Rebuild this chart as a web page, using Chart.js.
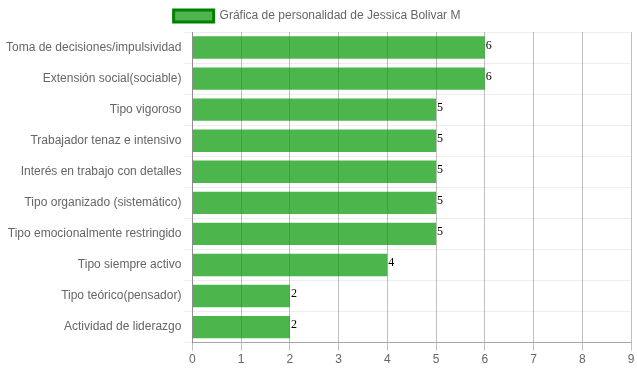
<!DOCTYPE html>
<html>
<head>
<meta charset="utf-8">
<script src="https://cdn.jsdelivr.net/npm/chart.js@4/dist/chart.umd.min.js"></script>
<style>
  body { margin: 0; background: #fff; }
  #wrap { width: 637px; height: 371px; }
</style>
</head>
<body>
<div id="wrap"><canvas id="personalityChart"></canvas></div>
<script>
// Chart data
const categories = [
  "Toma de decisiones/impulsividad",
  "Extensión social(sociable)",
  "Tipo vigoroso",
  "Trabajador tenaz e intensivo",
  "Interés en trabajo con detalles",
  "Tipo organizado (sistemático)",
  "Tipo emocionalmente restringido",
  "Tipo siempre activo",
  "Tipo teórico(pensador)",
  "Actividad de liderazgo",
];
const scores = [6, 6, 5, 5, 5, 5, 5, 4, 2, 2];
const seriesLabel = "Gráfica de personalidad de Jessica Bolivar M";
const xTicks = [0, 1, 2, 3, 4, 5, 6, 7, 8, 9];

// Draw the value next to the end of each bar
const valueLabels = {
  id: "valueLabels",
  afterDatasetsDraw(chart) {
    const ctx = chart.ctx;
    ctx.save();
    ctx.font = "12px 'Liberation Serif', 'Times New Roman', serif";
    ctx.fillStyle = "#000";
    ctx.textAlign = "left";
    ctx.textBaseline = "alphabetic";
    chart.getDatasetMeta(0).data.forEach((bar, i) => {
      ctx.fillText(scores[i], bar.x + 1, bar.y + 1);
    });
    ctx.restore();
  },
};

document.addEventListener("DOMContentLoaded", function () {
  const ctx = document.getElementById("personalityChart").getContext("2d");
  new Chart(ctx, {
    type: "bar",
    data: {
      labels: categories,
      datasets: [
        {
          label: seriesLabel,
          data: scores,
          backgroundColor: "rgba(0, 150, 0, 0.7)",
          borderWidth: 0,
          barPercentage: 0.9,
          categoryPercentage: 0.8,
        },
      ],
    },
    options: {
      indexAxis: "y",
      responsive: true,
      maintainAspectRatio: false,
      animation: false,
      layout: { padding: { left: 3, right: 6, bottom: 2 } },
      font: { family: "Arial, 'Liberation Sans', sans-serif", size: 12 },
      color: "#666",
      plugins: {
        tooltip: { enabled: false },
        legend: {
          position: "top",
          labels: {
            color: "#666",
            boxWidth: 40,
            font: { family: "Arial, 'Liberation Sans', sans-serif", size: 12 },
            generateLabels: (chart) => [
              {
                text: seriesLabel,
                fillStyle: "rgba(0, 150, 0, 0.7)",
                strokeStyle: "#008000",
                fontColor: "#666",
                lineWidth: 3,
                datasetIndex: 0,
                hidden: false,
              },
            ],
          },
        },
      },
      scales: {
        x: {
          min: 0,
          max: xTicks[xTicks.length - 1],
          ticks: {
            stepSize: 1,
            color: "#666",
            padding: 2,
            font: { family: "Arial, 'Liberation Sans', sans-serif", size: 12 },
          },
          grid: { color: "rgba(0, 0, 0, 0.25)", tickLength: 8 },
          border: { color: "rgba(0, 0, 0, 0.3)" },
        },
        y: {
          ticks: {
            color: "#666",
            font: { family: "Arial, 'Liberation Sans', sans-serif", size: 12 },
          },
          grid: { color: "rgba(0, 0, 0, 0.07)", tickLength: 8 },
          border: { color: "rgba(0, 0, 0, 0.25)" },
        },
      },
    },
    plugins: [valueLabels],
  });
});
</script>
</body>
</html>
